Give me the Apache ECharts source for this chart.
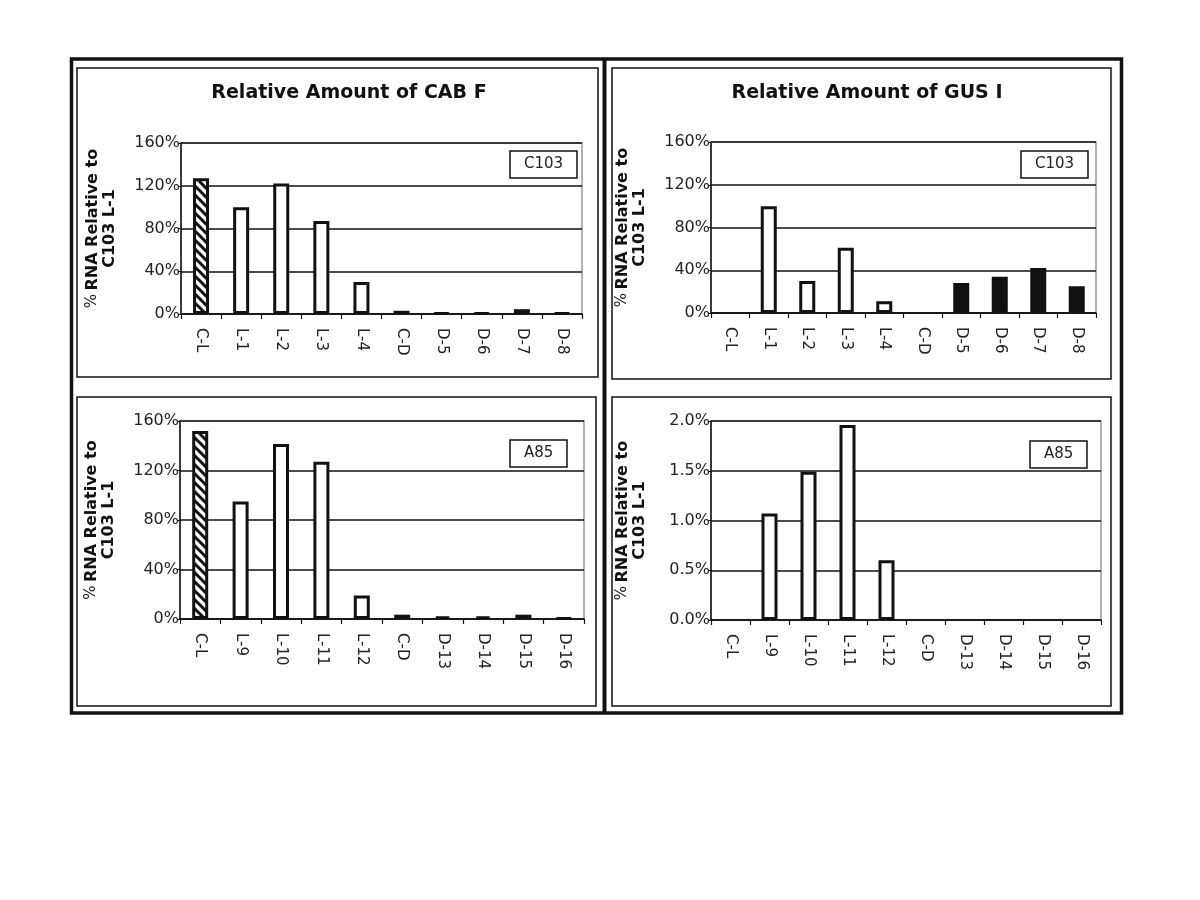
<!DOCTYPE html>
<html><head><meta charset="utf-8">
<script src="https://cdn.jsdelivr.net/npm/echarts@6/dist/echarts.min.js"></script>
<style>html,body{margin:0;padding:0;background:#fff}#c{width:1200px;height:900px}</style>
</head><body><div id="c"></div>
<script>
// ---- data ----
var catsTop = ['C-L','L-1','L-2','L-3','L-4','C-D','D-5','D-6','D-7','D-8'];
var catsBottom = ['C-L','L-9','L-10','L-11','L-12','C-D','D-13','D-14','D-15','D-16'];
var cabC103 = [127, 100, 122, 87, 30, 3, 1, 1, 4.5, 1];
var gusC103 = [0, 100, 30, 61, 11, 0, 28, 34, 42, 25];
var cabA85 = [152, 95, 141.5, 127, 19, 3.5, 2, 2, 3.5, 1];
var gusA85 = [0, 1.07, 1.49, 1.96, 0.6, 0, 0, 0, 0, 0];
var titleCab = 'Relative Amount of CAB F';
var titleGus = 'Relative Amount of GUS I';
var lineTop = 'C103';
var lineBottom = 'A85';

// ---- patterns ----
function hatch() {
  var c = document.createElement('canvas'); c.width = 9; c.height = 9;
  var g = c.getContext('2d'); g.fillStyle = '#fff'; g.fillRect(0,0,9,9);
  g.strokeStyle = '#111'; g.lineWidth = 3; g.beginPath();
  g.moveTo(-2,-2); g.lineTo(11,11); g.moveTo(-2,7); g.lineTo(2,11); g.moveTo(7,-2); g.lineTo(11,2);
  g.stroke(); return c;
}
function dots() {
  var c = document.createElement('canvas'); c.width = 6; c.height = 6;
  var g = c.getContext('2d'); g.fillStyle = '#fff'; g.fillRect(0,0,6,6);
  g.fillStyle = '#111'; g.fillRect(0,0,2,6); return c;
}
var hatchImg = hatch(), dotImg = dots();
function styleFor(cat) {
  if (cat === 'C-L') return {color: {image: hatchImg, repeat: 'repeat'}};
  if (cat === 'C-D') return {color: {image: dotImg, repeat: 'repeat'}};
  if (cat.charAt(0) === 'D') return {color: '#111'};
  return {color: '#fff'};
}
function build(cats, vals) {
  return vals.map(function (v, i) {
    return {value: v === 0 ? null : v, itemStyle: styleFor(cats[i])};
  });
}

var FONT = 'DejaVu Sans';
var grids = [
  {left: 181, top: 143, width: 401, height: 171},
  {left: 711, top: 142, width: 385, height: 171},
  {left: 180, top: 421, width: 404, height: 198},
  {left: 711, top: 421, width: 390, height: 199}
];
var yName = '{n|%} {b|RNA Relative to}\n{b|C103 L-1}';
function xAxis(i, cats) {
  return {
    type: 'category', gridIndex: i, data: cats,
    axisLine: {lineStyle: {color: '#111', width: 1.5}},
    axisTick: {show: true, length: 5, lineStyle: {color: '#111', width: 1.2}},
    axisLabel: {rotate: -90, fontFamily: FONT, fontSize: 15, color: '#222', margin: 14}
  };
}
function yAxis(i, max, interval, fmt) {
  return {
    type: 'value', gridIndex: i, min: 0, max: max, interval: interval,
    name: yName, nameLocation: 'middle', nameGap: 63, nameRotate: 90,
    nameTextStyle: {
      align: 'center', lineHeight: 17,
      rich: {
        n: {fontFamily: FONT, fontSize: 15, color: '#222'},
        b: {fontFamily: FONT, fontSize: 16, fontWeight: 'bold', color: '#111', lineHeight: 17}
      }
    },
    axisLine: {show: true, lineStyle: {color: '#111', width: 1.5}},
    axisTick: {show: true, length: 3, lineStyle: {color: '#111'}},
    axisLabel: {fontFamily: FONT, fontSize: 16, color: '#222', margin: 1, formatter: fmt},
    splitLine: {show: true, lineStyle: {color: '#111', width: 1.5}}
  };
}
var pctInt = function (v) { return v + '%'; };
var pctDec = function (v) { return v.toFixed(1) + '%'; };

function bar(i, name, cats, vals) {
  return {
    type: 'bar', name: name, xAxisIndex: i, yAxisIndex: i,
    data: build(cats, vals), barWidth: 16,
    itemStyle: {borderColor: '#111', borderWidth: 3},
    animation: false
  };
}
function legendBox(text, x, y) {
  return {
    text: text, left: x, top: y, padding: [6, 14, 6, 14],
    borderColor: '#111', borderWidth: 1.5,
    textStyle: {fontFamily: FONT, fontSize: 15, fontWeight: 'normal', color: '#222'}
  };
}
var titleStyle = {fontFamily: FONT, fontSize: 19, fontWeight: 'bold', color: '#111'};

var option = {
  backgroundColor: '#fff',
  animation: false,
  grid: grids.map(function (g) {
    return Object.assign({show: true, borderColor: '#999', borderWidth: 1.5, backgroundColor: 'transparent'}, g);
  }),
  title: [
    {text: titleCab, left: 344, top: 79, textAlign: 'center', textStyle: titleStyle},
    {text: titleGus, left: 862, top: 79, textAlign: 'center', textStyle: titleStyle},
    legendBox(lineTop, 510, 151),
    legendBox(lineTop, 1021, 151),
    legendBox(lineBottom, 510, 440),
    legendBox(lineBottom, 1030, 441)
  ],
  xAxis: [xAxis(0, catsTop), xAxis(1, catsTop), xAxis(2, catsBottom), xAxis(3, catsBottom)],
  yAxis: [
    yAxis(0, 160, 40, pctInt), yAxis(1, 160, 40, pctInt),
    yAxis(2, 160, 40, pctInt), yAxis(3, 2, 0.5, pctDec)
  ],
  series: [
    bar(0, lineTop, catsTop, cabC103),
    bar(1, lineTop, catsTop, gusC103),
    bar(2, lineBottom, catsBottom, cabA85),
    bar(3, lineBottom, catsBottom, gusA85)
  ],
  graphic: [
    {type: 'rect', shape: {x: 71.5, y: 59, width: 1050, height: 654}, style: {fill: 'none', stroke: '#111', lineWidth: 3.5}, silent: true},
    {type: 'line', shape: {x1: 604.5, y1: 59, x2: 604.5, y2: 713}, style: {stroke: '#111', lineWidth: 4}, silent: true},
    {type: 'rect', shape: {x: 77, y: 68, width: 521, height: 309}, style: {fill: 'none', stroke: '#111', lineWidth: 1.5}, silent: true},
    {type: 'rect', shape: {x: 612, y: 68, width: 499, height: 311}, style: {fill: 'none', stroke: '#111', lineWidth: 1.5}, silent: true},
    {type: 'rect', shape: {x: 77, y: 397, width: 519, height: 309}, style: {fill: 'none', stroke: '#111', lineWidth: 1.5}, silent: true},
    {type: 'rect', shape: {x: 612, y: 397, width: 499, height: 309}, style: {fill: 'none', stroke: '#111', lineWidth: 1.5}, silent: true}
  ]
};
var chart = echarts.init(document.getElementById('c'), null, {renderer: 'canvas'});
chart.setOption(option);
</script>
</body></html>
